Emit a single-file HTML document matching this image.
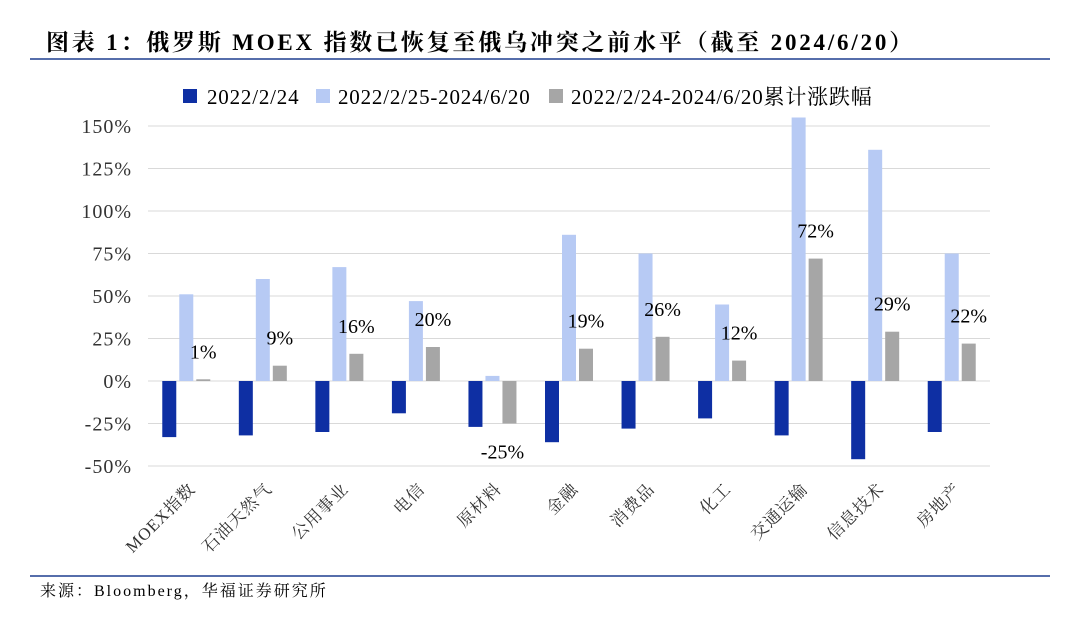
<!DOCTYPE html>
<html><head><meta charset="utf-8"><style>
body{margin:0;background:#fff;}
svg text{font-family:"Liberation Serif","Noto Serif CJK SC",serif;}
</style></head><body>
<svg width="1080" height="617" viewBox="0 0 1080 617" xmlns="http://www.w3.org/2000/svg">
<text x="46" y="50" font-size="23" font-weight="bold" letter-spacing="2.8" fill="#000">图表 1：俄罗斯 MOEX 指数已恢复至俄乌冲突之前水平（截至 2024/6/20）</text>
<line x1="30" y1="59" x2="1050" y2="59" stroke="#1f3f8f" stroke-width="1.5"/>
<line x1="30" y1="576" x2="1050" y2="576" stroke="#1f3f8f" stroke-width="1.5"/>
<text x="40" y="596" font-size="16" letter-spacing="2" fill="#000">来源：Bloomberg，华福证券研究所</text>
<g id="legend">
<rect x="183" y="89" width="14" height="14" fill="#0e2fa3"/>
<text x="207" y="104" font-size="21" letter-spacing="0.8">2022/2/24</text>
<rect x="316" y="89" width="14" height="14" fill="#b7caf4"/>
<text x="338" y="104" font-size="21" letter-spacing="0.8">2022/2/25-2024/6/20</text>
<rect x="549" y="89" width="14" height="14" fill="#a6a6a6"/>
<text x="571" y="104" font-size="21" letter-spacing="0.8">2022/2/24-2024/6/20累计涨跌幅</text>
</g>
<g id="grid"></g><g id="bars"></g><g id="labels"></g>
</svg>
<script>
const categories=["MOEX指数","石油天然气","公用事业","电信","原材料","金融","消费品","化工","交通运输","信息技术","房地产"];
const preValues=[-33,-32,-30,-19,-27,-36,-28,-22,-32,-46,-30];
const postValues=[51,60,67,47,3,86,75,45,155,136,75];
const totalValues=[1,9,16,20,-25,19,26,12,72,29,22];
const tickValues=[150,125,100,75,50,25,0,-25,-50];
const NS="http://www.w3.org/2000/svg";
const x0=148,x1=990,y0=381,pxPer=255/150;
const y=v=>y0-v*pxPer;
const gw=(x1-x0)/categories.length;
const xc=i=>x0+gw*(i+0.5);
function mk(tag,attrs,parent){const e=document.createElementNS(NS,tag);for(const k in attrs)e.setAttribute(k,attrs[k]);document.getElementById(parent).appendChild(e);return e;}
tickValues.forEach(t=>{
 const l=mk('line',{x1:x0,x2:x1,y1:y(t),y2:y(t),stroke:'#d9d9d9','stroke-width':1},'grid');
 
 
 const tx=mk('text',{x:x0-16,y:y(t)+7,'text-anchor':'end','font-size':20,'letter-spacing':1,fill:'#333'},'grid');
 tx.textContent=t+'%';
 
 
});
const bw=14;
const series=[[preValues,'#0e2fa3',-17],[postValues,'#b7caf4',0],[totalValues,'#a6a6a6',17]];
categories.forEach((c,i)=>{
 series.forEach(([vals,col,off],s)=>{
  const v=vals[i];
  const r=mk('rect',{x:xc(i)+off-bw/2,y:Math.min(y(v),y(0)),width:bw,height:Math.abs(y(v)-y(0)),fill:col},'bars');
  
  
 });
 const tv=totalValues[i];
 const t=mk('text',{x:i===4?xc(i)+10:xc(i)+17,y:tv>=0?y(tv)-21:y(tv)+35,'text-anchor':'middle','font-size':20},'labels');
 t.textContent=tv+'%';
 
 
 const cl=mk('text',{x:0,y:0,'text-anchor':'end','font-size':17,'letter-spacing':1,fill:'#333',transform:`translate(${xc(i)+10},${490}) rotate(-45)`},'labels');
 cl.textContent=c;
 
 
});
</script>
</body></html>
